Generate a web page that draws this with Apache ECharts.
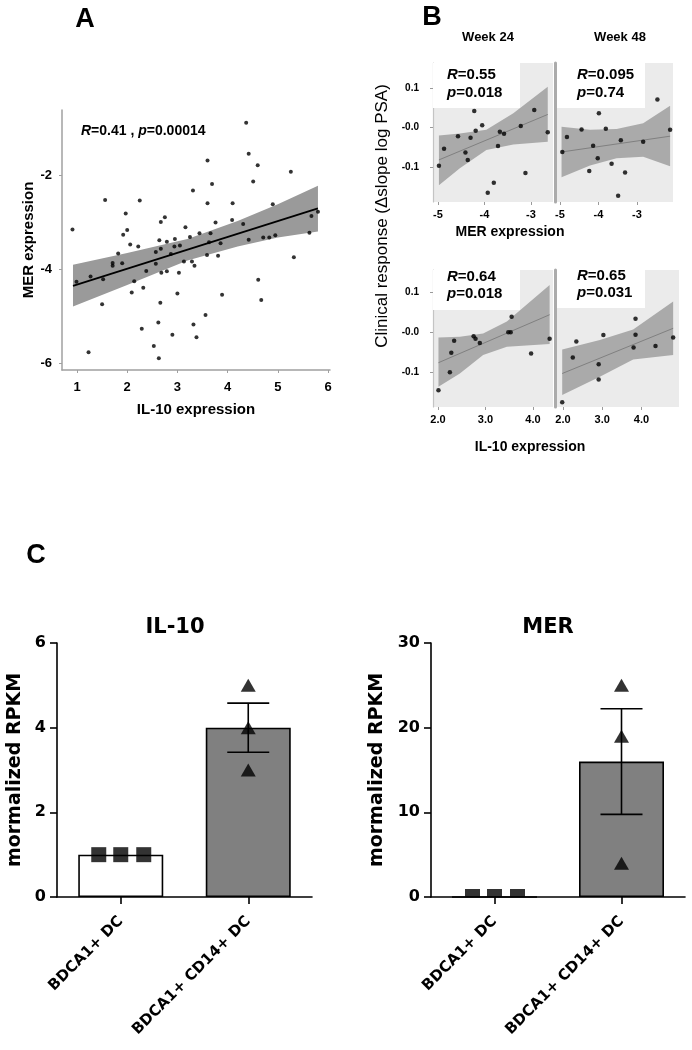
<!DOCTYPE html>
<html><head><meta charset="utf-8">
<script src="https://cdn.jsdelivr.net/npm/echarts@6/dist/echarts.min.js"></script>
<style>html,body{margin:0;padding:0;background:#fff}#c{width:692px;height:1050px}</style>
</head><body><div id="c"></div>
<script>
// ---------------- Panel A: MER vs IL-10 expression ----------------
const aPoints = [[1.56,-2.53],[2.25,-2.54],[3.31,-2.33],[1.97,-2.82],[0.91,-3.16],[1.92,-3.27],[2.00,-3.17],[2.67,-3.00],[2.75,-2.90],[3.16,-3.11],[2.95,-3.36],[3.25,-3.32],[3.44,-3.24],[4.37,-0.89],[4.42,-1.55],[3.60,-1.69],[4.60,-1.79],[5.26,-1.93],[3.69,-2.19],[4.51,-2.14],[3.60,-2.60],[4.10,-2.60],[4.90,-2.62],[3.76,-3.01],[4.09,-2.96],[4.31,-3.04],[5.67,-2.87],[5.80,-2.78],[3.66,-3.24],[4.42,-3.38],[4.71,-3.33],[4.83,-3.33],[4.95,-3.28],[3.63,-3.43],[3.86,-3.45],[5.63,-3.23],[3.59,-3.70],[3.81,-3.72],[3.29,-3.84],[3.34,-3.93],[5.32,-3.75],[4.61,-4.23],[3.89,-4.55],[4.67,-4.66],[3.56,-4.98],[3.32,-5.18],[3.38,-5.45],[2.06,-3.48],[2.22,-3.52],[1.82,-3.67],[2.64,-3.39],[2.79,-3.42],[2.94,-3.52],[3.05,-3.50],[2.57,-3.64],[2.67,-3.57],[2.87,-3.68],[1.71,-3.87],[1.71,-3.93],[1.90,-3.88],[2.57,-3.89],[3.13,-3.84],[2.38,-4.04],[2.68,-4.08],[2.79,-4.05],[3.03,-4.08],[0.99,-4.27],[1.27,-4.16],[1.52,-4.22],[2.14,-4.26],[2.09,-4.50],[2.32,-4.40],[3.00,-4.52],[1.50,-4.75],[2.66,-4.72],[2.29,-5.27],[2.62,-5.14],[2.90,-5.40],[2.53,-5.64],[2.63,-5.90],[1.23,-5.77]];
const aBandX = [0.92, 2, 3.2, 4.2, 5, 5.8];
const aBandUpper = [-3.91, -3.66, -3.36, -2.98, -2.62, -2.23];
const aBandLower = [-4.80, -4.34, -3.82, -3.52, -3.33, -3.20];
const aFit = [[0.92, -4.36], [5.8, -2.71]];
const aXTicks = [1, 2, 3, 4, 5, 6];
const aYTicks = [-6, -4, -2];

// ---------------- Panel B ----------------
const w24MerPoints = [[-4.98,-0.097],[-4.87,-0.054],[-4.57,-0.022],[-4.41,-0.063],[-4.36,-0.082],[-4.30,-0.026],[-4.22,0.042],[-4.19,-0.008],[-4.05,0.006],[-3.93,-0.165],[-3.80,-0.140],[-3.71,-0.047],[-3.67,-0.011],[-3.58,-0.016],[-3.22,0.004],[-3.12,-0.115],[-2.93,0.044],[-2.64,-0.012]];
const w24MerBandX = [-4.98, -4.53, -3.96, -3.38, -2.64];
const w24MerBandUpper = [-0.020, -0.015, -0.006, 0.036, 0.103];
const w24MerBandLower = [-0.146, -0.103, -0.057, -0.043, -0.036];
const w24MerFit = [[-4.98, -0.082], [-2.64, 0.033]];

const w48MerPoints = [[-4.94,-0.062],[-4.82,-0.024],[-4.44,-0.005],[-4.24,-0.110],[-4.14,-0.046],[-4.02,-0.078],[-3.99,0.036],[-3.81,-0.003],[-3.66,-0.092],[-3.49,-0.173],[-3.42,-0.032],[-3.31,-0.114],[-2.84,-0.036],[-2.47,0.071],[-2.14,-0.006]];
const w48MerBandX = [-4.96, -4.22, -3.53, -2.84, -2.14];
const w48MerBandUpper = [0.002, -0.006, -0.004, 0.011, 0.055];
const w48MerBandLower = [-0.126, -0.096, -0.078, -0.074, -0.098];
const w48MerFit = [[-4.96, -0.062], [-2.14, -0.022]];

const w24IlPoints = [[2.01,-0.145],[2.25,-0.100],[2.28,-0.051],[2.34,-0.021],[2.75,-0.010],[2.79,-0.016],[2.88,-0.027],[3.48,0.000],[3.53,0.000],[3.55,0.039],[3.96,-0.053],[4.35,-0.016]];
const w24IlBandX = [2.01, 2.46, 2.95, 3.45, 4.35];
const w24IlBandUpper = [-0.013, -0.011, -0.003, 0.027, 0.118];
const w24IlBandLower = [-0.136, -0.103, -0.057, -0.036, -0.029];
const w24IlFit = [[2.01, -0.076], [4.35, 0.044]];

const w48IlPoints = [[1.98,-0.175],[2.25,-0.063],[2.34,-0.023],[2.91,-0.080],[2.91,-0.118],[3.03,-0.007],[3.80,-0.038],[3.85,-0.006],[3.85,0.034],[4.36,-0.034],[4.81,-0.013]];
const w48IlBandX = [1.98, 2.94, 3.79, 4.81];
const w48IlBandUpper = [-0.043, -0.019, 0.007, 0.077];
const w48IlBandLower = [-0.157, -0.111, -0.068, -0.057];
const w48IlFit = [[1.98, -0.103], [4.81, 0.010]];

const bMerTicks = [-5, -4, -3];
const bMerTickLabels = ['-5', '-4', '-3'];
const bIlTicks = [2, 3, 4];
const bIlTickLabels = ['2.0', '3.0', '4.0'];
const bYTicks = [-0.1, 0, 0.1];
const bYTickLabels = ['-0.1', '-0.0', '0.1'];

// ---------------- Panel C ----------------
const cCategories = ['BDCA1+ DC', 'BDCA1+ CD14+ DC'];
const il10Bars = [1, 4];
const il10Group1 = [1, 1, 1];
const il10Group2 = [5, 4, 3];
const il10ErrLow = [null, 3.42];
const il10ErrHigh = [null, 4.58];
const merBars = [0, 16];
const merGroup1 = [0, 0, 0];
const merGroup2 = [25, 19, 4];
const merErrLow = [null, 9.76];
const merErrHigh = [null, 22.24];
const il10YTicks = [0, 2, 4, 6];
const merYTicks = [0, 10, 20, 30];

const FA = "'Liberation Sans', Arial, sans-serif";
const FC = "'DejaVu Sans', sans-serif";
const sqOffsets = [-22, 0, 23];

function bandSeries(idx, bx, up, lo, color) {
  return {
    type: 'custom', xAxisIndex: idx, yAxisIndex: idx, z: 2, silent: true,
    data: [[bx[0], up[0]]],
    renderItem: function (params, api) {
      const pts = [];
      for (let i = 0; i < bx.length; i++) pts.push(api.coord([bx[i], up[i]]));
      for (let i = bx.length - 1; i >= 0; i--) pts.push(api.coord([bx[i], lo[i]]));
      return { type: 'polygon', shape: { points: pts }, style: { fill: color } };
    }
  };
}
function fitSeries(idx, pts, color, w) {
  return { type: 'line', xAxisIndex: idx, yAxisIndex: idx, data: pts, symbol: 'none', z: 3, silent: true,
    lineStyle: { color: color, width: w }, animation: false };
}
function dotSeries(idx, pts, size) {
  return { type: 'scatter', xAxisIndex: idx, yAxisIndex: idx, data: pts, symbolSize: size, z: 4,
    itemStyle: { color: '#000' }, animation: false };
}
function errSeries(idx, low, high) {
  const data = [];
  low.forEach((l, i) => { if (l !== null) data.push([i, l, high[i]]); });
  return {
    type: 'custom', xAxisIndex: idx, yAxisIndex: idx, z: 5, silent: true,
    encode: { x: 0, y: [1, 2] }, data: data,
    renderItem: function (params, api) {
      const lo = api.coord([api.value(0), api.value(1)]);
      const hi = api.coord([api.value(0), api.value(2)]);
      const w = 21, st = { stroke: '#000', lineWidth: 1.6 };
      return { type: 'group', children: [
        { type: 'line', shape: { x1: lo[0], y1: lo[1], x2: hi[0], y2: hi[1] }, style: st },
        { type: 'line', shape: { x1: lo[0] - w, y1: lo[1], x2: lo[0] + w, y2: lo[1] }, style: st },
        { type: 'line', shape: { x1: hi[0] - w, y1: hi[1], x2: hi[0] + w, y2: hi[1] }, style: st }
      ] };
    }
  };
}
function groupSeries(idx, cat, vals, symbol, size, offsets, dy) {
  return { type: 'scatter', xAxisIndex: idx, yAxisIndex: idx, z: 6, symbol: symbol, symbolSize: size,
    itemStyle: { color: '#000' }, animation: false,
    data: vals.map((v, i) => ({ value: [cat, v], symbolOffset: [offsets ? offsets[i] : 0, dy || 0] })) };
}

function bXAxis(g, min, max, ticks, labels) {
  return { type: 'value', gridIndex: g, min: min, max: max, splitLine: { show: false },
    axisLine: { show: false, onZero: false },
    axisTick: { show: true, customValues: ticks, length: 3, lineStyle: { color: '#9a9a9a' } },
    axisLabel: { customValues: ticks, formatter: v => labels[ticks.indexOf(v)], color: '#000',
      fontWeight: 'bold', fontSize: 11, fontFamily: FA, margin: 7 } };
}
function bYAxis(g, min, max, left) {
  return { type: 'value', gridIndex: g, min: min, max: max, splitLine: { show: false },
    axisLine: { show: true, onZero: false, lineStyle: { color: left ? '#c4c4c4' : '#ababab', width: left ? 1.2 : 3 } },
    axisTick: { show: left, customValues: bYTicks, length: 3, lineStyle: { color: '#9a9a9a' } },
    axisLabel: { show: left, customValues: bYTicks, formatter: v => bYTickLabels[bYTicks.indexOf(v)], color: '#000',
      fontWeight: 'bold', fontSize: 10, fontFamily: FA, margin: 14 } };
}
function cXAxis(g) {
  return { type: 'category', gridIndex: g, data: cCategories,
    axisLine: { show: true, onZero: false, lineStyle: { color: '#000', width: 1.6 } },
    axisTick: { show: true, alignWithLabel: true, length: 7, lineStyle: { color: '#000', width: 1.6 } },
    axisLabel: { rotate: 45, margin: 22, color: '#000', fontWeight: 'bold', fontSize: 15, fontFamily: FC, interval: 0 } };
}
function cYAxis(g, max, ticks, gap) {
  return { type: 'value', gridIndex: g, min: 0, max: max, interval: ticks[1] - ticks[0], splitLine: { show: false },
    name: 'mormalized RPKM', nameLocation: 'middle', nameRotate: 90, nameGap: gap,
    nameTextStyle: { color: '#000', fontWeight: 'bold', fontSize: 19, fontFamily: FC },
    axisLine: { show: true, onZero: false, lineStyle: { color: '#000', width: 1.6 } },
    axisTick: { show: true, length: 7, lineStyle: { color: '#000', width: 1.6 } },
    axisLabel: { color: '#000', fontWeight: 'bold', fontSize: 16, fontFamily: FC, margin: 11 } };
}

const bgGrid = { show: true, backgroundColor: '#ebebeb', borderWidth: 0, outerBoundsMode: 'none', containLabel: false };
const option = {
  backgroundColor: '#fff',
  animation: false,
  grid: [
    { left: 62, top: 110, width: 268, height: 260, outerBoundsMode: 'none' },
    Object.assign({ left: 433, top: 63, width: 120, height: 139 }, bgGrid),
    Object.assign({ left: 555, top: 63, width: 118, height: 139 }, bgGrid),
    Object.assign({ left: 433, top: 270, width: 120, height: 137 }, bgGrid),
    Object.assign({ left: 555, top: 270, width: 124, height: 137 }, bgGrid),
    { left: 57, top: 643, width: 255, height: 254, outerBoundsMode: 'none' },
    { left: 431, top: 643, width: 254, height: 254, outerBoundsMode: 'none' }
  ],
  xAxis: [
    { type: 'value', gridIndex: 0, min: 0.701, max: 6.04, splitLine: { show: false },
      name: 'IL-10 expression', nameLocation: 'middle', nameGap: 32,
      nameTextStyle: { color: '#000', fontWeight: 'bold', fontSize: 15, fontFamily: FA },
      axisLine: { show: true, onZero: false, lineStyle: { color: '#a0a0a0', width: 1.5 } },
      axisTick: { show: true, customValues: aXTicks, length: 3, lineStyle: { color: '#a0a0a0' } },
      axisLabel: { customValues: aXTicks, color: '#000', fontWeight: 'bold', fontSize: 13, fontFamily: FA, margin: 11 } },
    bXAxis(1, -5.1075, -2.527, bMerTicks, bMerTickLabels),
    bXAxis(2, -5.13, -2.065, bMerTicks, bMerTickLabels),
    bXAxis(3, 1.895, 4.421, bIlTicks, bIlTickLabels),
    bXAxis(4, 1.796, 4.959, bIlTicks, bIlTickLabels),
    cXAxis(5), cXAxis(6)
  ],
  yAxis: [
    { type: 'value', gridIndex: 0, min: -6.149, max: -0.617, splitLine: { show: false },
      name: 'MER expression', nameLocation: 'middle', nameRotate: 90, nameGap: 25,
      nameTextStyle: { color: '#000', fontWeight: 'bold', fontSize: 15, fontFamily: FA },
      axisLine: { show: true, onZero: false, lineStyle: { color: '#a0a0a0', width: 1.5 } },
      axisTick: { show: true, customValues: aYTicks, length: 3, lineStyle: { color: '#a0a0a0' } },
      axisLabel: { customValues: aYTicks, color: '#000', fontWeight: 'bold', fontSize: 13, fontFamily: FA, margin: 10 } },
    bYAxis(1, -0.1886, 0.1633, true),
    bYAxis(2, -0.1886, 0.1633, false),
    bYAxis(3, -0.1868, 0.1558, true),
    bYAxis(4, -0.1868, 0.1558, false),
    cYAxis(5, 6, il10YTicks, 32),
    cYAxis(6, 30, merYTicks, 44)
  ],
  series: [
    bandSeries(0, aBandX, aBandUpper, aBandLower, '#9a9a9a'),
    fitSeries(0, aFit, '#000', 1.8),
    dotSeries(0, aPoints, 4),

    bandSeries(1, w24MerBandX, w24MerBandUpper, w24MerBandLower, '#aaaaaa'),
    fitSeries(1, w24MerFit, '#808080', 1),
    dotSeries(1, w24MerPoints, 4.5),
    bandSeries(2, w48MerBandX, w48MerBandUpper, w48MerBandLower, '#aaaaaa'),
    fitSeries(2, w48MerFit, '#808080', 1),
    dotSeries(2, w48MerPoints, 4.5),
    bandSeries(3, w24IlBandX, w24IlBandUpper, w24IlBandLower, '#aaaaaa'),
    fitSeries(3, w24IlFit, '#808080', 1),
    dotSeries(3, w24IlPoints, 4.5),
    bandSeries(4, w48IlBandX, w48IlBandUpper, w48IlBandLower, '#aaaaaa'),
    fitSeries(4, w48IlFit, '#808080', 1),
    dotSeries(4, w48IlPoints, 4.5),

    { type: 'bar', xAxisIndex: 5, yAxisIndex: 5, barWidth: 85, z: 2,
      itemStyle: { borderColor: '#000', borderWidth: 1.6 },
      data: il10Bars.map((v, i) => ({ value: v, itemStyle: { color: i === 0 ? '#ffffff' : '#808080' } })) },
    errSeries(5, il10ErrLow, il10ErrHigh),
    groupSeries(5, 0, il10Group1, 'rect', 15, sqOffsets, 0),
    groupSeries(5, 1, il10Group2, 'triangle', [15, 13], null, 0),

    { type: 'bar', xAxisIndex: 6, yAxisIndex: 6, barWidth: 85, z: 2,
      itemStyle: { borderColor: '#000', borderWidth: 1.6 },
      data: merBars.map((v, i) => ({ value: v, itemStyle: { color: i === 0 ? '#ffffff' : '#808080' } })) },
    errSeries(6, merErrLow, merErrHigh),
    groupSeries(6, 0, merGroup1, 'rect', [15, 8], sqOffsets, -4),
    groupSeries(6, 1, merGroup2, 'triangle', [15, 13], null, 0)
  ],
  graphic: [
    { type: 'text', x: 85, y: 20, style: { text: 'A', font: 'bold 27px ' + FA, textAlign: 'center', textVerticalAlign: 'middle', fill: '#000' } },
    { type: 'text', x: 432, y: 18, style: { text: 'B', font: 'bold 27px ' + FA, textAlign: 'center', textVerticalAlign: 'middle', fill: '#000' } },
    { type: 'text', x: 36, y: 556, style: { text: 'C', font: 'bold 27px ' + FA, textAlign: 'center', textVerticalAlign: 'middle', fill: '#000' } },
    { type: 'text', x: 81, y: 131, z: 10, style: { text: '{i|R}{n|=0.41 , }{i|p}{n|=0.00014}', textVerticalAlign: 'middle',
      rich: { i: { fontStyle: 'italic', fontWeight: 'bold', fontSize: 14, fontFamily: FA, fill: '#000' },
              n: { fontWeight: 'bold', fontSize: 14, fontFamily: FA, fill: '#000' } } } },

    { type: 'text', x: 488, y: 37, style: { text: 'Week 24', font: 'bold 13px ' + FA, textAlign: 'center', textVerticalAlign: 'middle', fill: '#000' } },
    { type: 'text', x: 620, y: 37, style: { text: 'Week 48', font: 'bold 13px ' + FA, textAlign: 'center', textVerticalAlign: 'middle', fill: '#000' } },

    { type: 'rect', z: 1, shape: { x: 433, y: 63, width: 87, height: 45 }, style: { fill: '#fff' } },
    { type: 'rect', z: 1, shape: { x: 557, y: 63, width: 88, height: 45 }, style: { fill: '#fff' } },
    { type: 'rect', z: 1, shape: { x: 433, y: 270, width: 87, height: 40 }, style: { fill: '#fff' } },
    { type: 'rect', z: 1, shape: { x: 557, y: 270, width: 88, height: 38 }, style: { fill: '#fff' } },

    ...[[447, 75, 'R', '=0.55'], [447, 93, 'p', '=0.018'], [577, 75, 'R', '=0.095'], [577, 93, 'p', '=0.74'],
        [447, 277, 'R', '=0.64'], [447, 294, 'p', '=0.018'], [577, 276, 'R', '=0.65'], [577, 293, 'p', '=0.031']]
      .map(t => ({ type: 'text', x: t[0], y: t[1], z: 10, style: { text: '{i|' + t[2] + '}{n|' + t[3] + '}', textVerticalAlign: 'middle',
        rich: { i: { fontStyle: 'italic', fontWeight: 'bold', fontSize: 15, fontFamily: FA, fill: '#000' },
                n: { fontWeight: 'bold', fontSize: 15, fontFamily: FA, fill: '#000' } } } })),

    { type: 'text', x: 510, y: 232, style: { text: 'MER expression', font: 'bold 14px ' + FA, textAlign: 'center', textVerticalAlign: 'middle', fill: '#000' } },
    { type: 'text', x: 530, y: 447, style: { text: 'IL-10 expression', font: 'bold 14px ' + FA, textAlign: 'center', textVerticalAlign: 'middle', fill: '#000' } },
    { type: 'text', x: 382, y: 216, rotation: Math.PI / 2, style: { text: 'Clinical response (\u0394slope log PSA)', font: '17px ' + FA, textAlign: 'center', textVerticalAlign: 'middle', fill: '#000' } },

    { type: 'text', x: 175, y: 628, style: { text: 'IL-10', font: 'bold 21px ' + FC, textAlign: 'center', textVerticalAlign: 'middle', fill: '#000' } },
    { type: 'text', x: 548, y: 628, style: { text: 'MER', font: 'bold 21px ' + FC, textAlign: 'center', textVerticalAlign: 'middle', fill: '#000' } }
  ]
};
const chart = echarts.init(document.getElementById('c'), null, { renderer: 'canvas' });
chart.setOption(option);
</script></body></html>
